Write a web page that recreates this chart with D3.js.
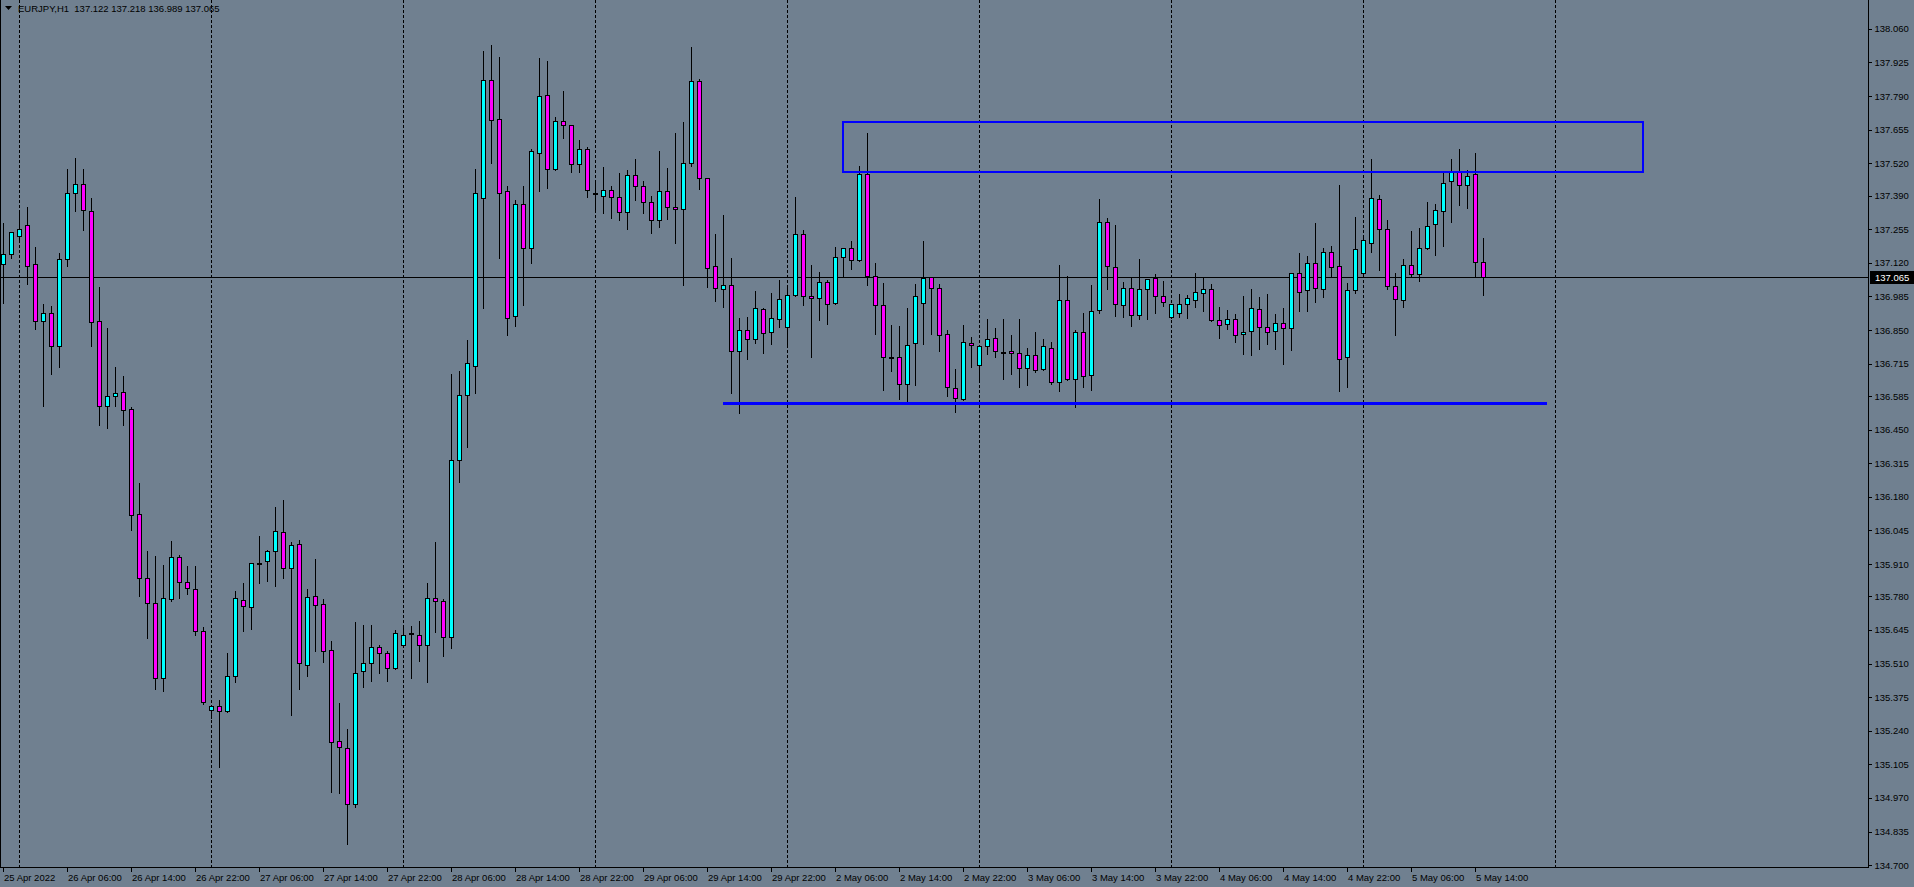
<!DOCTYPE html>
<html><head><meta charset="utf-8">
<script src="https://cdn.jsdelivr.net/npm/d3@7"></script>
<style>html,body{margin:0;padding:0;background:#708090;overflow:hidden}svg{display:block}</style>
</head><body><svg id="c" width="1914" height="887"></svg>
<script>
const symbolName = "EURJPY,H1";
const firstBarTime = Date.UTC(2022, 3, 25, 22);
const opens = [137.114,137.157,137.229,137.271,137.114,136.887,136.917,136.785,137.134,137.399,137.436,137.327,136.885,136.544,136.583,136.600,136.531,136.110,135.852,135.752,
135.451,135.768,135.937,135.836,135.808,135.639,135.322,135.338,135.318,135.459,135.764,135.736,135.914,135.921,135.961,136.037,135.895,135.989,135.503,135.780,
135.748,135.563,135.197,135.169,134.944,135.479,135.511,135.575,135.554,135.490,135.583,135.631,135.626,135.586,135.775,135.760,135.615,136.327,136.587,136.707,
137.382,137.853,137.697,137.407,136.905,137.358,137.178,137.563,137.793,137.496,137.691,137.673,137.516,137.576,137.401,137.387,137.411,137.383,137.323,137.472,
137.428,137.363,137.291,137.407,137.343,137.335,137.520,137.849,137.460,137.106,137.014,137.030,136.765,136.849,136.813,136.936,136.841,136.893,136.861,136.990,
137.235,136.986,136.978,137.042,136.957,137.142,137.178,137.130,137.476,137.066,136.949,136.741,136.740,136.632,136.797,136.957,137.062,137.018,136.833,136.616,
136.572,136.797,136.708,136.785,136.817,136.762,136.765,136.757,136.697,136.748,136.692,136.777,136.640,136.969,136.652,136.841,136.668,136.929,137.283,137.102,
136.949,137.018,136.909,137.014,137.058,136.986,136.901,136.917,136.953,136.969,136.997,137.014,136.889,136.873,136.893,136.833,136.845,136.933,136.861,136.845,
136.877,136.857,137.078,137.010,137.118,137.014,137.162,137.106,136.740,137.010,137.078,137.198,137.375,137.255,137.026,136.969,137.110,137.074,137.178,137.275,
137.327,137.448,137.488,137.432,137.476,137.122];
const highs = [137.280,137.245,137.323,137.344,137.184,136.955,136.947,137.158,137.497,137.541,137.497,137.379,137.023,136.858,136.703,136.665,136.539,136.235,135.962,135.942,
135.906,136.002,135.945,135.902,135.902,135.656,135.340,135.362,135.551,135.800,135.832,135.915,136.021,135.965,136.138,136.167,135.997,136.005,135.808,135.929,
135.768,135.599,135.350,135.246,135.676,135.664,135.664,135.583,135.562,135.643,135.660,135.660,135.679,135.832,136.000,135.768,136.672,136.687,136.809,137.496,
137.973,137.994,137.949,137.430,137.372,137.427,137.577,137.945,137.930,137.704,137.810,137.675,137.613,137.584,137.445,137.505,137.429,137.480,137.493,137.537,
137.448,137.388,137.569,137.501,137.642,137.686,137.987,137.857,137.462,137.236,137.312,137.139,136.897,136.902,137.006,136.938,136.999,137.050,137.032,137.383,
137.251,137.110,137.082,137.050,137.182,137.180,137.206,137.508,137.640,137.118,137.038,136.869,136.865,136.937,137.034,137.206,137.064,137.034,136.849,136.692,
136.869,136.821,136.787,136.893,136.857,136.894,136.830,136.895,136.778,136.842,136.814,136.803,137.111,137.067,136.849,136.917,137.030,137.376,137.299,137.271,
137.042,137.058,137.134,137.056,137.074,137.046,136.955,136.994,136.990,137.078,137.062,137.034,136.941,136.929,136.913,136.986,137.014,136.982,136.994,136.913,
136.937,137.080,137.158,137.146,137.279,137.178,137.186,137.432,137.038,137.303,137.223,137.536,137.392,137.291,137.078,137.134,137.247,137.259,137.363,137.355,
137.488,137.536,137.576,137.492,137.560,137.218];
const lows = [136.959,137.141,137.216,137.036,136.855,136.545,136.675,136.703,137.108,137.329,137.253,136.787,136.468,136.456,136.545,136.470,136.045,135.783,135.614,135.409,
135.401,135.760,135.774,135.790,135.626,135.349,135.290,135.095,135.316,135.437,135.642,135.650,135.835,135.843,135.823,135.855,135.304,135.409,135.461,135.562,
135.517,134.995,134.991,134.786,134.932,135.417,135.441,135.473,135.440,135.488,135.575,135.452,135.521,135.437,135.638,135.540,135.574,136.241,136.378,136.598,
136.939,137.523,137.140,136.831,136.865,136.951,137.121,137.410,137.419,137.494,137.623,137.487,137.487,137.386,137.336,137.321,137.301,137.293,137.257,137.374,
137.321,137.241,137.265,137.297,137.201,137.032,137.510,137.418,137.024,136.968,136.944,136.598,136.517,136.735,136.797,136.759,136.795,136.863,136.783,136.988,
136.952,136.742,136.891,136.875,136.953,137.068,137.096,137.128,137.032,136.835,136.610,136.687,136.574,136.556,136.628,136.795,136.835,136.767,136.586,136.522,
136.570,136.702,136.654,136.752,136.740,136.654,136.675,136.622,136.630,136.680,136.690,136.632,136.606,136.650,136.542,136.622,136.610,136.920,137.014,136.905,
136.901,136.865,136.893,136.893,136.920,136.945,136.898,136.901,136.897,136.941,136.925,136.885,136.817,136.853,136.801,136.752,136.748,136.773,136.793,136.773,
136.712,136.769,136.925,136.925,136.961,136.982,137.066,136.604,136.620,136.997,137.076,137.162,137.090,137.014,136.829,136.941,137.062,137.046,137.176,137.150,
137.186,137.283,137.351,137.339,137.062,136.989];
const closes = [137.154,137.243,137.257,137.108,136.885,136.917,136.785,137.134,137.399,137.436,137.331,136.881,136.544,136.584,136.596,136.527,136.106,135.852,135.752,135.451,
135.772,135.937,135.836,135.812,135.639,135.357,135.338,135.318,135.459,135.772,135.740,135.913,135.915,135.961,136.041,135.895,135.985,135.511,135.776,135.744,
135.559,135.193,135.173,134.944,135.471,135.511,135.575,135.551,135.490,135.631,135.624,135.631,135.586,135.775,135.760,135.615,136.327,136.587,136.716,137.400,
137.853,137.695,137.400,136.900,137.355,137.178,137.568,137.789,137.499,137.691,137.675,137.519,137.576,137.411,137.401,137.411,137.383,137.323,137.472,137.428,
137.363,137.293,137.407,137.343,137.335,137.520,137.849,137.460,137.100,137.018,137.030,136.765,136.849,136.813,136.937,136.837,136.897,136.973,136.990,137.235,
136.986,136.978,137.042,136.953,137.142,137.178,137.130,137.476,137.066,136.949,136.740,136.741,136.632,136.789,136.985,137.058,137.018,136.829,136.620,136.576,
136.801,136.789,136.785,136.813,136.764,136.762,136.757,136.697,136.748,136.688,136.785,136.640,136.969,136.652,136.841,136.664,136.925,137.283,137.106,136.953,
137.018,136.909,137.014,137.054,136.985,136.961,136.953,136.953,136.978,137.001,137.014,136.889,136.869,136.893,136.829,136.841,136.937,136.861,136.841,136.877,
136.857,137.078,137.001,137.118,137.018,137.162,137.102,136.732,137.010,137.174,137.211,137.379,137.255,137.026,136.973,137.110,137.074,137.178,137.267,137.331,
137.440,137.488,137.432,137.468,137.122,137.065];
const priceTicks = [138.060,137.925,137.790,137.655,137.520,137.390,137.255,137.120,136.985,136.850,136.715,136.585,136.450,136.315,136.180,136.045,135.910,135.780,135.645,135.510,135.375,135.240,135.105,134.970,134.835,134.700];
const currentPrice = 137.065;
const zoneBars = [105, 205];
const zonePrices = [137.686, 137.486];
const supportBars = [90, 193];
const supportPrice = 136.556;
const daySeparatorBars = [2, 26, 50, 74, 98, 122, 146, 170, 194];
const months = ["Jan","Feb","Mar","Apr","May","Jun","Jul","Aug","Sep","Oct","Nov","Dec"];

// bar times (hourly, weekend skipped)
const barTimes = [];
{ let t = firstBarTime;
  while (barTimes.length < opens.length) {
    const d = new Date(t); const wd = d.getUTCDay();
    if (wd !== 0 && wd !== 6) barTimes.push(d);
    t += 3600000;
  } }
const pad = n => String(n).padStart(2, "0");
const fmtTime = (d, i) => i === 0 ? `${d.getUTCDate()} ${months[d.getUTCMonth()]} ${d.getUTCFullYear()}`
  : `${d.getUTCDate()} ${months[d.getUTCMonth()]} ${pad(d.getUTCHours())}:${pad(d.getUTCMinutes())}`;

const W = 1914, H = 887, plotR = 1868, plotB = 867;
const FONT = "'Liberation Sans', Arial, sans-serif";
const svg = d3.select("#c");
const x = d3.scaleLinear().domain([0, 233]).range([3, 1867]);
const y = d3.scaleLinear().domain([134.700, 138.060]).range([865.1, 28.9]);
const cx = i => Math.round(x(i));
const cy = p => Math.round(y(p));

svg.append("rect").attr("width", W).attr("height", H).attr("fill", "#708090");

const plot = svg.append("g").attr("shape-rendering", "crispEdges");

// day separators
plot.selectAll("line.sep").data(daySeparatorBars).join("line").attr("class", "sep")
  .attr("x1", d => cx(d) + 0.5).attr("x2", d => cx(d) + 0.5)
  .attr("y1", 0).attr("y2", plotB)
  .attr("stroke", "#000").attr("stroke-width", 1).attr("stroke-dasharray", "3,2");

// current price line
plot.append("line").attr("x1", 0).attr("x2", plotR).attr("y1", cy(currentPrice) + 0.5).attr("y2", cy(currentPrice) + 0.5)
  .attr("stroke", "#000").attr("stroke-width", 1);

const data = opens.map((o, i) => ({ i, o, h: highs[i], l: lows[i], c: closes[i] }));

// wicks
plot.selectAll("line.wick").data(data).join("line").attr("class", "wick")
  .attr("x1", d => cx(d.i) + 0.5).attr("x2", d => cx(d.i) + 0.5)
  .attr("y1", d => cy(d.h)).attr("y2", d => cy(d.l) + 1)
  .attr("stroke", "#000").attr("stroke-width", 1);

// bodies
const bodies = data.filter(d => d.o !== d.c);
plot.selectAll("rect.body").data(bodies).join("rect").attr("class", "body")
  .attr("x", d => cx(d.i) - 1.5)
  .attr("y", d => cy(Math.max(d.o, d.c)) + 0.5)
  .attr("width", 4)
  .attr("height", d => Math.max(1, cy(Math.min(d.o, d.c)) - cy(Math.max(d.o, d.c))))
  .attr("fill", d => d.c > d.o ? "#00ffff" : "#ff00ff")
  .attr("stroke", "#000").attr("stroke-width", 1);

// dojis
plot.selectAll("line.doji").data(data.filter(d => d.o === d.c)).join("line").attr("class", "doji")
  .attr("x1", d => cx(d.i) - 2).attr("x2", d => cx(d.i) + 3)
  .attr("y1", d => cy(d.o) + 0.5).attr("y2", d => cy(d.o) + 0.5)
  .attr("stroke", "#000").attr("stroke-width", 2);

// blue objects
plot.append("rect")
  .attr("x", cx(zoneBars[0])).attr("y", cy(zonePrices[0]))
  .attr("width", cx(zoneBars[1]) - cx(zoneBars[0]))
  .attr("height", cy(zonePrices[1]) - cy(zonePrices[0]))
  .attr("fill", "none").attr("stroke", "#0000ff").attr("stroke-width", 2);
plot.append("line")
  .attr("x1", cx(supportBars[0])).attr("x2", cx(supportBars[1]))
  .attr("y1", cy(supportPrice) + 0.5).attr("y2", cy(supportPrice) + 0.5)
  .attr("stroke", "#0000ff").attr("stroke-width", 3);

// frame
svg.append("line").attr("x1", plotR + 0.5).attr("x2", plotR + 0.5).attr("y1", 0).attr("y2", plotB + 1)
  .attr("stroke", "#000").attr("shape-rendering", "crispEdges");
svg.append("line").attr("x1", 0).attr("x2", plotR + 1).attr("y1", plotB + 0.5).attr("y2", plotB + 0.5)
  .attr("stroke", "#000").attr("shape-rendering", "crispEdges");
svg.append("line").attr("x1", 0.5).attr("x2", 0.5).attr("y1", 0).attr("y2", plotB)
  .attr("stroke", "#000").attr("shape-rendering", "crispEdges");

// price axis
const yAxis = d3.axisRight(y).tickValues(priceTicks).tickFormat(d3.format(".3f")).tickSize(3).tickPadding(3);
const ya = svg.append("g").attr("transform", `translate(${plotR + 0.5},0)`).call(yAxis);
ya.select(".domain").remove();
ya.selectAll("line").attr("stroke", "#000").attr("shape-rendering", "crispEdges");
ya.selectAll("text").attr("fill", "#000").attr("font-family", FONT).attr("font-size", 9.5);

// current price label
const cpg = svg.append("g").attr("transform", `translate(${plotR + 1},${cy(currentPrice) + 0.5})`);
cpg.append("rect").attr("x", 1).attr("y", -6.5).attr("width", 44).attr("height", 13).attr("fill", "#000");
cpg.append("text").attr("x", 6).attr("y", 0).attr("dy", "0.34em").attr("fill", "#fff")
  .attr("font-family", FONT).attr("font-size", 9.5).text(d3.format(".3f")(currentPrice));

// time axis
const labelBars = d3.range(0, opens.length, 8);
const xa = svg.append("g").attr("transform", `translate(0,${plotB + 0.5})`);
xa.selectAll("line").data(labelBars).join("line")
  .attr("x1", d => cx(d) + 0.5).attr("x2", d => cx(d) + 0.5).attr("y1", 0).attr("y2", 4)
  .attr("stroke", "#000").attr("shape-rendering", "crispEdges");
xa.selectAll("text").data(labelBars).join("text")
  .attr("x", d => cx(d) + 1).attr("y", 13.5)
  .attr("fill", "#000").attr("font-family", FONT).attr("font-size", 9.5)
  .text(d => fmtTime(barTimes[d], d));

// header
svg.append("path").attr("d", "M5,6 L12,6 L8.5,10 Z").attr("fill", "#000");
const last = opens.length - 1;
svg.append("text").attr("x", 18).attr("y", 12)
  .attr("fill", "#000").attr("font-family", FONT).attr("font-size", 9.5)
  .attr("xml:space", "preserve")
  .text(`${symbolName}  ${opens[last].toFixed(3)} ${highs[last].toFixed(3)} ${lows[last].toFixed(3)} ${closes[last].toFixed(3)}`);
</script>
</body></html>
